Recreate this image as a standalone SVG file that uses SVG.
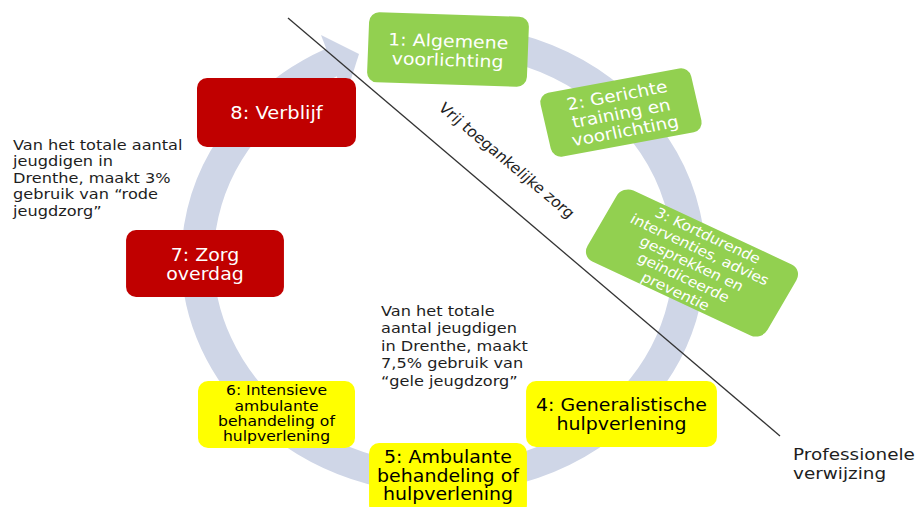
<svg xmlns="http://www.w3.org/2000/svg" width="922" height="507" viewBox="0 0 922 507">
<style>
text{font-family:"DejaVu Sans",Verdana,"Liberation Sans",sans-serif}
.g{fill:#92d050}
.r{fill:#c00000}
.y{fill:#ffff00}
.w{fill:#ffffff;text-anchor:middle}
.k{fill:#000000;text-anchor:middle}
.note{fill:#1e1e1e;font-size:14.5px}
.big{font-size:16.5px}
.diag{font-size:14.5px;text-anchor:middle}
.ring{fill:none;stroke:#cfd6e7;stroke-width:29}
</style>
<rect width="922" height="507" fill="#ffffff"/>
<g id="cycle">
  <g transform="translate(443,259) scale(1.115,1)">
    <path class="ring" d="M -38.3 -217.2 A 220.5 220.5 0 1 1 -89.7 -201.4"/>
  </g>
  <polygon points="321,35 359,54 345,98" fill="#cfd6e7"/>
</g>
<g id="connectors">
  <line x1="288" y1="18" x2="780" y2="436" stroke="#333333" stroke-width="1.3"/>
</g>
<g id="n1" transform="translate(448,49.5) scale(1.115,1) rotate(2)">
  <rect class="g" x="-71.7" y="-35" width="143.4" height="70" rx="9" ry="10"/>
  <text class="w" font-size="17"><tspan x="0" y="-2.5">1: Algemene</tspan><tspan x="0" y="16.5">voorlichting</tspan></text>
</g>
<g id="n2" transform="translate(621,112.5) scale(1.115,1) rotate(-11.7)">
  <rect class="g" x="-69" y="-32.5" width="138" height="65" rx="9" ry="10"/>
  <text class="w" font-size="16.5"><tspan x="0" y="-11.8">2: Gerichte</tspan><tspan x="0" y="6.5">training en</tspan><tspan x="0" y="24.5">voorlichting</tspan></text>
</g>
<g id="n3" transform="translate(692,263) scale(1.115,1) rotate(27.5)">
  <rect class="g" x="-91" y="-40" width="182" height="80" rx="11" ry="12"/>
  <text class="w" font-size="14"><tspan x="0" y="-26">3: Kortdurende</tspan><tspan x="0" y="-10.3">interventies, advies</tspan><tspan x="0" y="5.4">gesprekken en</tspan><tspan x="0" y="21.1">geïndiceerde</tspan><tspan x="0" y="36.8">preventie</tspan></text>
</g>
<g id="n4" transform="translate(621.5,414) scale(1.115,1)">
  <rect class="y" x="-85.6" y="-33" width="171.2" height="66" rx="9" ry="10"/>
  <text class="k" font-size="17"><tspan x="0" y="-3.5">4: Generalistische</tspan><tspan x="0" y="15.5">hulpverlening</tspan></text>
</g>
<g id="n5" transform="translate(448,478) scale(1.115,1)">
  <rect class="y" x="-70.8" y="-35" width="141.6" height="72" rx="9" ry="10"/>
  <text class="k" font-size="17"><tspan x="0" y="-15">5: Ambulante</tspan><tspan x="0" y="4">behandeling of</tspan><tspan x="0" y="22.5">hulpverlening</tspan></text>
</g>
<g id="n6" transform="translate(276.5,414.5) scale(1.115,1)">
  <rect class="y" x="-70.4" y="-33.5" width="140.8" height="67" rx="9" ry="10"/>
  <text class="k" font-size="14"><tspan x="0" y="-19.5">6: Intensieve</tspan><tspan x="0" y="-4">ambulante</tspan><tspan x="0" y="11.5">behandeling of</tspan><tspan x="0" y="27">hulpverlening</tspan></text>
</g>
<g id="n7" transform="translate(205,263.5) scale(1.115,1)">
  <rect class="r" x="-70.8" y="-33.5" width="141.6" height="67" rx="9" ry="10"/>
  <text class="w" font-size="17"><tspan x="0" y="-2.5">7: Zorg</tspan><tspan x="0" y="16">overdag</tspan></text>
</g>
<g id="n8" transform="translate(276.5,112.5) scale(1.115,1)">
  <rect class="r" x="-71.3" y="-34.5" width="142.6" height="69" rx="9" ry="10"/>
  <text class="w" font-size="17.5"><tspan x="0" y="6.5">8: Verblijf</tspan></text>
</g>
<g id="labels">
  <text class="note diag" transform="translate(503,164) scale(1.115,1) rotate(43.1)">Vrij toegankelijke zorg</text>
  <text class="note" transform="matrix(1.115 0 0 1 13 0)"><tspan x="0" y="150">Van het totale aantal</tspan><tspan x="0" y="166.5">jeugdigen in</tspan><tspan x="0" y="183">Drenthe, maakt 3%</tspan><tspan x="0" y="199.5">gebruik van “rode</tspan><tspan x="0" y="216">jeugdzorg”</tspan></text>
  <text class="note" transform="matrix(1.115 0 0 1 381 0)"><tspan x="0" y="316">Van het totale</tspan><tspan x="0" y="333.5">aantal jeugdigen</tspan><tspan x="0" y="351">in Drenthe, maakt</tspan><tspan x="0" y="368.5">7,5% gebruik van</tspan><tspan x="0" y="386">“gele jeugdzorg”</tspan></text>
  <text class="note big" transform="matrix(1.115 0 0 1 793 0)"><tspan x="0" y="460">Professionele</tspan><tspan x="0" y="479">verwijzing</tspan></text>
</g>
</svg>
